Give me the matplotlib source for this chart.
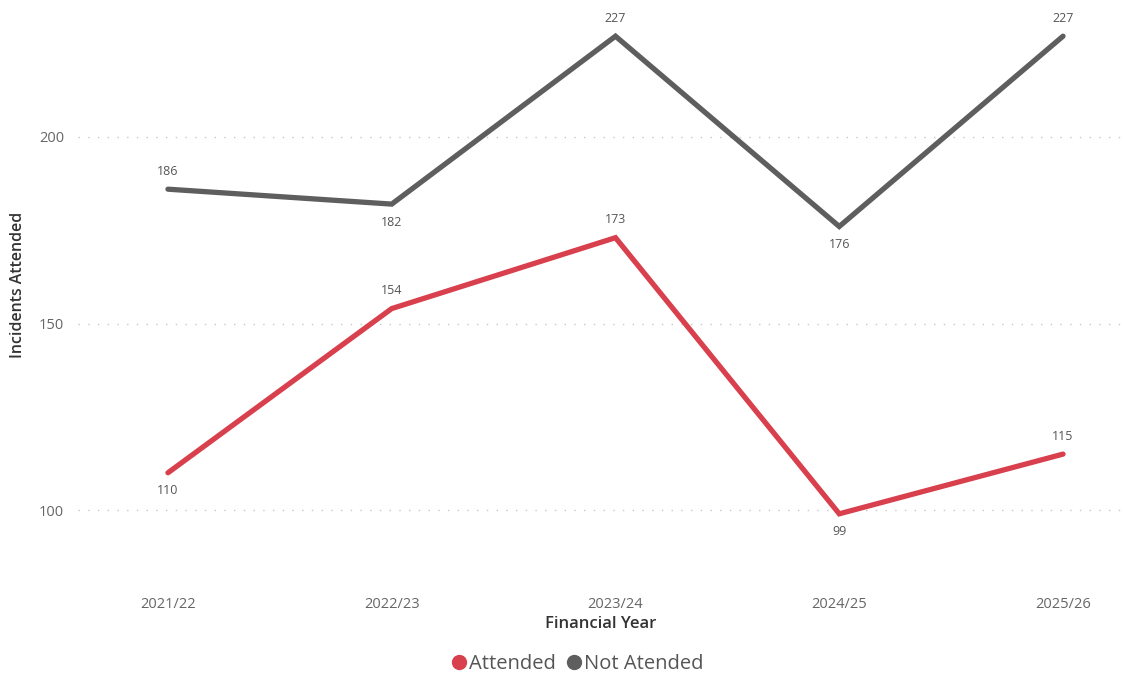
import numpy as np
import matplotlib.pyplot as plt
from matplotlib.lines import Line2D

plt.rcParams['font.family'] = ['Open Sans', 'DejaVu Sans']

# Datos
years = ['2021/22', '2022/23', '2023/24', '2024/25', '2025/26']
attended = [110, 154, 173, 99, 115]
not_attended = [186, 182, 227, 176, 227]
# posicion de etiquetas: 1 arriba, -1 abajo
pos_attended = [-1, 1, 1, -1, 1]
pos_not = [1, -1, 1, -1, 1]

c_red = '#D9404E'
c_gray = '#5E5E5E'

fig = plt.figure(figsize=(11.23, 6.8), dpi=100)
ax = fig.add_axes([78/1123, 1 - 575/680, 1 - 78/1123, 575/680])

x = np.arange(len(years))
ax.plot(x, not_attended, color=c_gray, lw=3.8, solid_capstyle='round', solid_joinstyle='miter')
ax.plot(x, attended, color=c_red, lw=3.8, solid_capstyle='round', solid_joinstyle='miter')

for xi, v, p in zip(x, not_attended, pos_not):
    ax.annotate(str(v), (xi, v), xytext=(0, 13*p), textcoords='offset points',
                ha='center', va='center', fontsize=9, color='#555555')
for xi, v, p in zip(x, attended, pos_attended):
    ax.annotate(str(v), (xi, v), xytext=(0, 13*p), textcoords='offset points',
                ha='center', va='center', fontsize=9, color='#555555')

ax.set_xlim(-0.402, 4.268)
ax.set_ylim(82.6, 236.7)
ax.set_yticks([100, 150, 200])
ax.set_xticks(x)
ax.set_xticklabels(years)
ax.tick_params(axis='both', length=0, labelsize=10.5, labelcolor='#666666')
ax.tick_params(axis='x', pad=16)
ax.tick_params(axis='y', pad=10)
ax.grid(axis='y', linestyle=(0, (1, 6)), color='#C8C8C8', lw=1)
ax.set_axisbelow(True)
for s in ax.spines.values():
    s.set_visible(False)

ax.set_xlabel('Financial Year', fontsize=12, color='#333333', fontweight='semibold', labelpad=3)
fig.text(18/1123, 1 - 285/680, 'Incidents Attended', rotation=90, ha='center', va='center',
         fontsize=11.5, color='#333333', fontweight='semibold')

handles = [Line2D([], [], marker='o', ls='none', color=c_red, markersize=10),
           Line2D([], [], marker='o', ls='none', color=c_gray, markersize=10)]
fig.legend(handles, ['Attended', 'Not Atended'], loc='center', bbox_to_anchor=(0.513, 1 - 664/680),
           ncol=2, frameon=False, fontsize=14.5, labelcolor='#555555',
           handletextpad=0.0, columnspacing=0.4, handlelength=1.0)

plt.savefig('out.png', dpi=100)
